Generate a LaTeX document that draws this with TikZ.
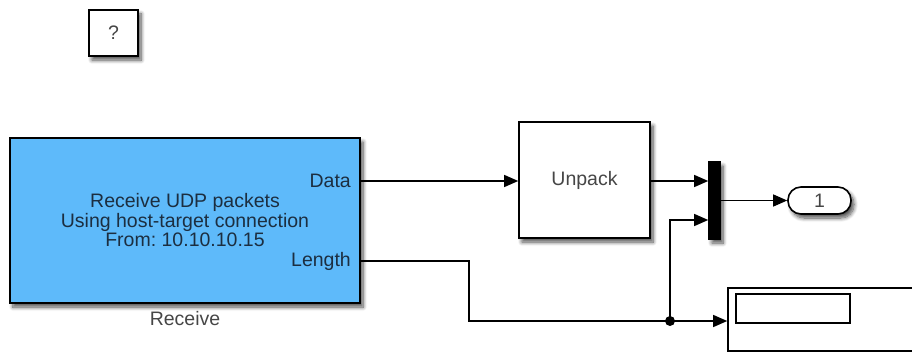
\documentclass[tikz,border=0pt]{standalone}
\usepackage{fontspec}
\setmainfont{Liberation Sans}
\usetikzlibrary{arrows.meta,positioning,shadows.blur}
\definecolor{rxblue}{RGB}{94,186,250}
\definecolor{rxtext}{RGB}{28,46,64}
\definecolor{labelgray}{RGB}{70,70,70}
\frenchspacing

\begin{document}
\begin{tikzpicture}[
  x=1pt, y=-1pt,
  font=\fontsize{19.5}{19.5}\selectfont,
  line/.style={-{Triangle[length=14pt,width=12pt]}, line width=1.3pt},
  shade/.style={blur shadow={shadow xshift=3pt, shadow yshift=-4pt,
    shadow blur steps=8, shadow blur radius=4pt, shadow opacity=70}},
  block/.style={
    draw,
    line width=1.6pt,
    fill=white,
    inner sep=0pt,
    align=center,
    text=labelgray
  },
  note/.style={
    align=center,
    inner sep=1pt
  }
]
\useasboundingbox (0,0) rectangle (912,353);

\node[block, shade, minimum width=49pt, minimum height=46pt] (query) at (113.5,33) {?};

\node[block, shade, fill=rxblue, text=rxtext, minimum width=350pt, minimum height=165pt] (rx) at (185,220.5)
  {Receive UDP packets\\Using host-target connection\\From: 10.10.10.15};
\node[note, text=rxtext, anchor=east] (data) at (352,181) {Data};
\node[note, text=rxtext, anchor=east] (len) at (352,261) {Length};
\node[note, text=labelgray, below=6pt of rx] (rxname) {Receive};

\node[block, shade, minimum width=131pt, minimum height=116pt] (unpack) at (584.5,180) {Unpack};

\node[block, shade, fill=black, minimum width=11pt, minimum height=77pt] (mux) at (714.5,200.5) {};

\node[block, shade, rounded corners=13pt, minimum width=63pt, minimum height=27pt] (out) at (819.5,200.5) {1};

\node[block, minimum width=192pt, minimum height=63pt] (disp) at (824,319.5) {};
\node[block, minimum width=114pt, minimum height=29pt] (dispwin) at (793,308.5) {};

% signal lines
\coordinate (muxin1) at (mux.west |- 0,181);
\coordinate (muxin2) at (mux.west |- 0,220);
\coordinate (bend) at (469,261);
\coordinate (split) at (670,321);

\draw[line] (rx.east |- data) -- (unpack.west |- data);
\draw[line] (unpack.east |- muxin1) -- (muxin1);
\draw[line] (mux.east) -- (out.west);
\draw[line] (rx.east |- len) -- (bend) |- (split) -- (disp.west |- split);
\draw[line] (split) |- (muxin2);
\fill (split) circle (5pt);

\end{tikzpicture}
\end{document}
